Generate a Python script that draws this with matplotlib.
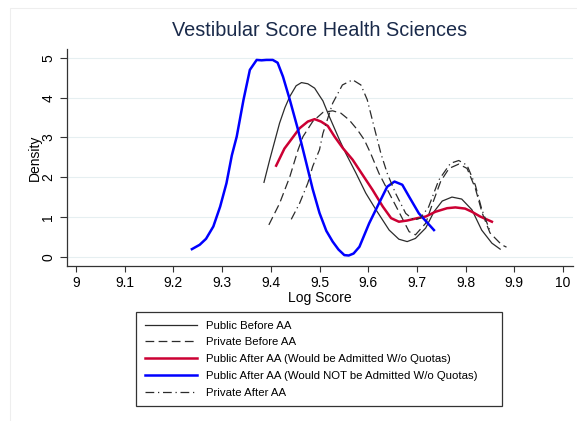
import matplotlib.pyplot as plt
from matplotlib.patches import Rectangle

plt.rcParams['font.family'] = ['Liberation Sans', 'DejaVu Sans']

# kernel density estimates of log vestibular score, read per group
pub_before_x = [9.386, 9.398, 9.409, 9.418, 9.429, 9.439, 9.452, 9.463, 9.476, 9.490,
                9.500, 9.507, 9.520, 9.541, 9.554, 9.575, 9.595, 9.616, 9.643, 9.663,
                9.680, 9.697, 9.718, 9.735, 9.752, 9.772, 9.792, 9.813, 9.833, 9.854, 9.871]
pub_before_y = [1.87, 2.45, 2.95, 3.36, 3.75, 4.03, 4.30, 4.38, 4.35, 4.24,
                4.05, 3.92, 3.53, 2.94, 2.60, 2.10, 1.60, 1.18, 0.67, 0.44,
                0.38, 0.46, 0.72, 1.13, 1.40, 1.50, 1.45, 1.18, 0.67, 0.34, 0.19]

priv_before_x = [9.396, 9.418, 9.439, 9.456, 9.466, 9.486, 9.507, 9.527, 9.544, 9.561,
                 9.578, 9.592, 9.605, 9.622, 9.643, 9.663, 9.684, 9.697, 9.718, 9.734,
                 9.749, 9.766, 9.786, 9.803, 9.820, 9.834, 9.850, 9.874, 9.884]
priv_before_y = [0.80, 1.34, 2.01, 2.69, 3.02, 3.40, 3.63, 3.67, 3.61, 3.44,
                 3.19, 2.94, 2.60, 2.10, 1.60, 1.13, 0.63, 0.55, 0.84, 1.40,
                 1.90, 2.22, 2.33, 2.22, 1.72, 1.10, 0.60, 0.30, 0.24]

pub_after_adm_x = [9.411, 9.428, 9.439, 9.459, 9.476, 9.490, 9.503, 9.517, 9.531, 9.548,
                   9.568, 9.582, 9.609, 9.630, 9.647, 9.663, 9.680, 9.701, 9.718, 9.738,
                   9.762, 9.779, 9.799, 9.813, 9.830, 9.854]
pub_after_adm_y = [2.29, 2.72, 2.90, 3.23, 3.40, 3.46, 3.40, 3.29, 3.02, 2.73,
                   2.44, 2.18, 1.68, 1.26, 0.97, 0.88, 0.91, 0.97, 1.01, 1.13,
                   1.22, 1.24, 1.21, 1.13, 1.01, 0.88]

pub_after_not_x = [9.238, 9.254, 9.267, 9.282, 9.296, 9.309, 9.320, 9.330, 9.344, 9.357,
                   9.371, 9.381, 9.391, 9.404, 9.414, 9.425, 9.439, 9.456, 9.473, 9.486,
                   9.500, 9.514, 9.527, 9.539, 9.551, 9.560, 9.570, 9.582, 9.602, 9.622,
                   9.639, 9.654, 9.670, 9.684, 9.704, 9.735]
pub_after_not_y = [0.19, 0.30, 0.45, 0.76, 1.26, 1.85, 2.55, 3.02, 3.95, 4.70,
                   4.95, 4.94, 4.95, 4.95, 4.88, 4.53, 3.95, 3.19, 2.35, 1.70,
                   1.10, 0.65, 0.38, 0.18, 0.04, 0.03, 0.08, 0.25, 0.84, 1.34,
                   1.76, 1.89, 1.81, 1.51, 1.09, 0.67]

priv_after_x = [9.442, 9.459, 9.476, 9.486, 9.500, 9.507, 9.527, 9.547, 9.568, 9.585,
                9.598, 9.612, 9.626, 9.639, 9.656, 9.677, 9.694, 9.707, 9.724, 9.745,
                9.769, 9.786, 9.803, 9.820, 9.833, 9.850]
priv_after_y = [0.94, 1.34, 1.85, 2.27, 2.69, 3.10, 3.86, 4.32, 4.45, 4.32,
                3.95, 3.27, 2.60, 2.10, 1.60, 1.09, 0.92, 0.97, 1.25, 1.93,
                2.35, 2.42, 2.30, 1.80, 1.20, 0.65]

x_ticks = [9, 9.1, 9.2, 9.3, 9.4, 9.5, 9.6, 9.7, 9.8, 9.9, 10]
x_ticklabels = ['9', '9.1', '9.2', '9.3', '9.4', '9.5', '9.6', '9.7', '9.8', '9.9', '10']
y_ticks = [0, 1, 2, 3, 4, 5]

fig = plt.figure(figsize=(5.77, 4.21), dpi=100)
fig.patch.set_facecolor('white')
# light outline of the graph region
fig.patches.append(Rectangle((10 / 577, -0.01), 1.0, 1 - 8 / 421 + 0.01,
                             transform=fig.transFigure, fill=False,
                             edgecolor='#eeeeee', linewidth=0.8, zorder=0))

ax = fig.add_axes([66.5 / 577, 1 - 266 / 421, 506 / 577, 217 / 421])

line_kw = dict(solid_joinstyle='round', dash_joinstyle='round')
ax.plot(pub_before_x, pub_before_y, color='#2b2b2b', lw=0.9,
        label='Public Before AA', **line_kw)
ax.plot(priv_before_x, priv_before_y, color='#2b2b2b', lw=0.9,
        linestyle=(0, (7, 3.5)), label='Private Before AA', **line_kw)
ax.plot(pub_after_adm_x, pub_after_adm_y, color='#cc0033', lw=1.8,
        label='Public After AA (Would be Admitted W/o Quotas)', **line_kw)
ax.plot(pub_after_not_x, pub_after_not_y, color='#0000ff', lw=1.8,
        label='Public After AA (Would NOT be Admitted W/o Quotas)', **line_kw)
ax.plot(priv_after_x, priv_after_y, color='#2b2b2b', lw=0.9,
        linestyle=(0, (7, 3, 1, 3)), label='Private After AA', **line_kw)

ax.set_xlim(8.9805, 10.0195)
ax.set_ylim(-0.234, 5.225)
ax.set_xticks(x_ticks)
ax.set_xticklabels(x_ticklabels)
ax.set_yticks(y_ticks)
ax.tick_params(axis='x', length=4, width=0.8, color='#333333', labelsize=10, pad=3)
ax.tick_params(axis='y', length=5, width=0.8, color='#333333', labelsize=10, pad=3,
               labelrotation=90)
for lbl in ax.get_yticklabels():
    lbl.set_verticalalignment('center')

ax.grid(axis='y', color='#e6eff1', lw=0.8)
ax.set_axisbelow(True)
for side in ['top', 'right']:
    ax.spines[side].set_visible(False)
for side in ['left', 'bottom']:
    ax.spines[side].set_color('#333333')
    ax.spines[side].set_linewidth(0.9)

ax.set_xlabel('Log Score', fontsize=10, labelpad=1)
ax.set_ylabel('Density', fontsize=10, labelpad=0)
ax.set_title('Vestibular Score Health Sciences', fontsize=14.3, color='#1a2a4a', pad=9)

fig.legend(loc='upper left', mode='expand',
           bbox_to_anchor=(136 / 577, 1 - 406 / 421, 366 / 577, 94 / 421),
           fontsize=8.2, frameon=True, fancybox=False, framealpha=1,
           edgecolor='#333333', handlelength=4.6, handletextpad=0.8,
           labelspacing=0.6, borderpad=0.75, borderaxespad=0)
fig.legends[0].get_frame().set_linewidth(0.9)

fig.savefig('out.png', dpi=100)
